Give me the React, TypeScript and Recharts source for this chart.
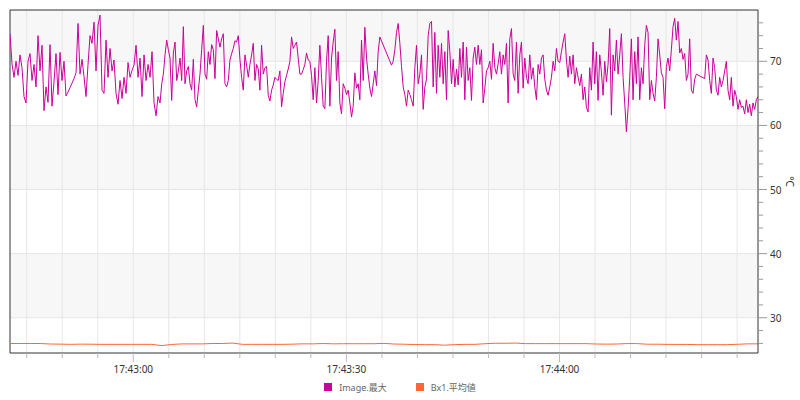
import { LineChart, Line, XAxis, YAxis, CartesianGrid, ReferenceArea, ReferenceLine, Legend } from "recharts"

// x values are seconds relative to 17:43:00
const X_MIN = -17.35
const X_MAX = 87.94
const Y_MIN = 24.5
const Y_MAX = 78

const MAGENTA = "#cc0099"
const ORANGE = "#ff6633"
const FONT = "'Noto Sans', 'Noto Sans CJK JP', sans-serif"

const imgEdges = [-17.35, 3.77, 24.86, 45.97, 67.07, 87.94]

const imgMax1 = [74.3, 69.6, 67.5, 70.0, 67.8, 71.0, 69.0, 64.5, 63.5, 70.0, 71.2, 67.0, 69.5, 66.0, 74.0, 68.5, 72.5, 62.3, 66.0, 63.6, 72.6, 63.0, 66.8, 71.2, 64.8, 71.4, 67.0, 70.0, 64.6, 65.2, 65.9, 66.6, 67.3, 68.2, 75.9, 68.0, 70.3, 67.6, 64.5, 69.5, 74.0, 72.8, 76.1, 68.5, 75.6, 77.2, 65.5, 65.0, 73.3, 67.5, 72.0, 68.5, 70.2, 65.0, 63.3, 67.0, 64.2, 67.5, 65.0, 69.8, 67.5, 68.6, 69.4, 72.5, 67.5, 70.5, 64.5, 71.0, 67.0, 69.5, 67.5, 71.5, 63.5, 61.5, 64.5]

const imgMax2 = [63.5, 66.5, 68.0, 71.0, 73.3, 71.8, 70.5, 63.9, 71.3, 73.0, 67.0, 68.5, 70.5, 67.0, 75.4, 66.5, 68.5, 69.2, 66.5, 65.5, 70.3, 64.0, 62.9, 65.5, 68.0, 71.8, 75.6, 68.0, 67.2, 71.5, 69.5, 72.6, 71.8, 67.3, 74.8, 73.5, 72.2, 73.5, 74.3, 66.5, 66.0, 67.0, 70.2, 71.2, 72.0, 73.2, 73.0, 74.0, 70.3, 67.5, 65.5, 71.0, 69.4, 67.5, 69.5, 71.0, 72.8, 67.0, 69.5, 68.8, 65.5, 72.5, 68.0, 69.0, 69.2, 64.7, 63.8, 65.5, 66.3, 67.5, 67.2, 67.0, 68.5, 62.9, 65.0, 66.8, 67.8, 68.8, 70.0, 73.8, 72.0, 72.5, 73.0, 70.5, 68.0, 68.0, 68.7, 69.5, 71.3, 70.2]

const imgMax3 = [70.0, 67.8, 64.0, 69.0, 63.5, 67.0, 72.5, 67.5, 63.0, 62.6, 70.0, 74.0, 63.0, 70.5, 73.0, 75.0, 67.0, 71.5, 63.5, 61.8, 66.5, 65.8, 64.8, 65.5, 63.5, 61.3, 63.0, 68.2, 65.8, 66.5, 64.0, 73.3, 67.0, 75.3, 70.5, 68.0, 65.8, 64.5, 66.5, 68.5, 66.2, 71.5, 73.8, null, null, null, null, null, null, 69.4, 70.0, 71.8, 74.5, 75.9, 72.8, 69.2, 66.0, 64.8, 63.0, 65.5, 64.8, 64.0, 63.0, 69.0, 72.5, 66.5, 68.0, 71.0, 62.5, 66.0, 67.2, 74.0, 75.9, 76.2, 66.0, 74.5, 65.0, 72.5, 67.5, 72.8, 66.5, 71.5, 64.0, 74.8, 71.5, 66.5, 70.3, 66.0, 68.8, 66.3]

const imgMax4 = [72.0, 67.5, 73.0, 64.0, 72.2, 67.0, 69.0, 63.9, 70.5, 72.2, 69.5, 72.5, 69.5, 71.8, 63.5, 65.8, 68.5, 69.0, 70.0, 67.2, 72.8, 69.0, 68.0, 69.6, 71.5, 68.0, 71.0, 69.5, 72.8, 63.5, 73.5, 75.1, 68.0, 67.0, 73.0, 65.0, 71.0, 73.0, 65.8, 70.5, 67.5, 66.5, 71.0, 67.2, 69.0, 66.0, 64.0, 69.5, 68.0, 70.5, 71.0, 67.2, 65.5, 64.7, 66.0, 67.5, 70.0, 68.5, 72.0, 70.0, 69.8, 71.5, 73.0, 74.3, 70.2, 67.5, 70.8, 68.0, 71.0, 66.5, 69.0, 67.5, 66.2, 68.0, 64.0, 66.0, 62.8, 62.1, 69.0, 65.5, 73.0, 66.5, 71.5, 63.9, 71.0, 68.3, 64.7, 70.0, 66.8, 69.5]

const imgMax5 = [75.1, 61.6, 71.0, 68.5, 73.3, 68.0, 71.0, 74.3, 67.5, 63.5, 59.0, 62.6, 67.5, 73.5, 64.0, 71.5, 66.5, 73.8, 64.0, 69.0, 66.5, 72.5, 75.6, 74.5, 64.0, 67.0, 65.0, 63.8, 67.5, 73.5, 71.0, 68.2, 67.5, 62.6, 69.2, 70.5, 68.5, 71.8, 75.4, 76.7, 73.3, 76.2, 71.3, 72.0, 70.3, 71.2, 67.0, 68.0, 73.5, 65.5, 65.0, 67.2, 68.0, null, null, null, null, 67.3, 71.0, 70.2, 67.0, 65.0, 70.5, 69.0, 65.5, 64.7, 67.5, 66.0, 67.0, 68.5, 70.0, 65.5, 64.0, 67.5, 63.0, 65.5, 64.5, 62.5, 64.0, 62.8, 63.0, 61.8, 64.0, 62.0, 63.3, 61.5, 63.5, 62.5, 64.0, 64.5]

const imgSlices = [imgMax1, imgMax2, imgMax3, imgMax4, imgMax5]

const bx1Avg = [25.98, 25.98, 25.98, 25.98, 25.9, 25.88, 25.85, 25.88, 25.87, 25.85, 25.85, 25.85, 25.85, 25.85, 25.85, 25.66, 25.83, 25.92, 25.92, 25.92, 25.98, 25.98, 26.05, 25.85, 25.85, 25.85, 25.85, 25.85, 25.88, 25.93, 25.93, 25.98, 25.93, 25.95, 25.95, 25.95, 25.95, 26.0, 25.9, 25.87, 25.82, 25.8, 25.8, 25.72, 25.8, 25.85, 25.85, 25.95, 26.02, 26.02, 26.05, 25.96, 25.96, 25.96, 25.96, 25.96, 25.96, 25.96, 25.9, 25.88, 25.9, 25.97, 25.97, 25.87, 25.87, 25.85, 25.84, 25.84, 25.8, 25.8, 25.8, 25.8, 25.86, 25.93, 25.93]

const xTicks = [-15, -10, -5, 0, 5, 10, 15, 20, 25, 30, 35, 40, 45, 50, 55, 60, 65, 70, 75, 80, 85]
const yTicks = [26, 28, 30, 32, 34, 36, 38, 40, 42, 44, 46, 48, 50, 52, 54, 56, 58, 60, 62, 64, 66, 68, 70, 72, 74, 76]
const yGrid = [30, 40, 50, 60, 70]
const bands = [[70, 78], [50, 60], [30, 40]]

const legendNames = ["Image.最大", "Bx1.平均値"]
const legendColors = [MAGENTA, ORANGE]

const imgData: { t: number; v: number | null }[] = []
imgSlices.forEach((vals, k) => {
  const a = imgEdges[k]
  const b = imgEdges[k + 1]
  const n = k === imgSlices.length - 1 ? vals.length - 1 : vals.length
  vals.forEach((v, j) => imgData.push({ t: a + (j * (b - a)) / n, v }))
})

const bxData = bx1Avg.map((v, i) => ({ t: X_MIN + (i * (X_MAX - X_MIN)) / (bx1Avg.length - 1), v }))

const BASE = 17 * 3600 + 43 * 60
const pad = (n: number) => String(n).padStart(2, "0")
function clock(s: number) {
  const t = BASE + s
  return `${pad(Math.floor(t / 3600))}:${pad(Math.floor((t % 3600) / 60))}:${pad(t % 60)}`
}

function TimeTick({ x, y, payload }: any) {
  const major = payload.value % 30 === 0
  return (
    <g>
      <line x1={x} y1={y} x2={x} y2={y + (major ? 9 : 5)} stroke="#bbb" />
      {major && (
        <text x={x} y={y + 20} textAnchor="middle" fontSize={10} fill="#333" fontFamily={FONT}>
          {clock(payload.value)}
        </text>
      )}
    </g>
  )
}

function TempTick({ x, y, payload }: any) {
  const major = payload.value % 10 === 0
  return (
    <g>
      <line x1={x} y1={y} x2={x + (major ? 9 : 5)} y2={y} stroke="#999" />
      {major && (
        <text x={x + 12} y={y + 4} fontSize={10} fill="#333" fontFamily={FONT}>
          {payload.value}
        </text>
      )}
    </g>
  )
}

function UnitLabel({ viewBox }: any) {
  const cx = viewBox.x + 28
  const cy = viewBox.y + viewBox.height / 2
  return (
    <text x={cx} y={cy} transform={`rotate(90, ${cx}, ${cy})`} textAnchor="middle" fontSize={10} fill="#333" fontFamily={FONT}>
      °C
    </text>
  )
}

function LegendRow() {
  return (
    <div style={{ display: "flex", justifyContent: "center", alignItems: "center", gap: 29, fontFamily: FONT, fontSize: 9, color: "#666", height: 24 }}>
      {legendNames.map((name, i) => (
        <span key={name} style={{ display: "flex", alignItems: "center", gap: 7 }}>
          <span style={{ width: 8, height: 8, background: legendColors[i], display: "inline-block" }} />
          {name}
        </span>
      ))}
    </div>
  )
}

export default function App() {
  return (
    <div style={{ position: "absolute", left: 0, top: 0, width: 800, height: 400, background: "#fff" }}>
      <LineChart width={800} height={400} margin={{ top: 10, right: 0, bottom: 1, left: 10 }}>
        {bands.map(([y1, y2]) => (
          <ReferenceArea key={y1} y1={y1} y2={y2} fill="#f7f7f7" fillOpacity={1} stroke="none" zIndex={-200} />
        ))}
        <CartesianGrid stroke="#e6e6e6" horizontalValues={yGrid} verticalValues={xTicks} />
        <XAxis
          type="number"
          dataKey="t"
          domain={[X_MIN, X_MAX]}
          allowDataOverflow
          ticks={xTicks}
          interval={0}
          height={22}
          tickSize={0}
          tickMargin={0}
          tickLine={false}
          axisLine={{ stroke: "#333" }}
          tick={<TimeTick />}
        />
        <YAxis
          orientation="right"
          type="number"
          domain={[Y_MIN, Y_MAX]}
          allowDataOverflow
          ticks={yTicks}
          interval={0}
          width={42}
          tickSize={0}
          tickMargin={0}
          tickLine={false}
          axisLine={{ stroke: "#333" }}
          tick={<TempTick />}
          label={UnitLabel}
        />
        <ReferenceLine y={Y_MAX} stroke="#333" />
        <ReferenceLine x={X_MIN} stroke="#333" />
        <Line data={bxData} dataKey="v" type="linear" stroke={ORANGE} strokeWidth={1} dot={false} isAnimationActive={false} />
        <Line data={imgData} dataKey="v" type="linear" stroke={MAGENTA} strokeWidth={1} dot={false} connectNulls isAnimationActive={false} />
        <Legend verticalAlign="bottom" height={24} wrapperStyle={{ left: 0, width: 800 }} content={<LegendRow />} />
      </LineChart>
    </div>
  )
}
